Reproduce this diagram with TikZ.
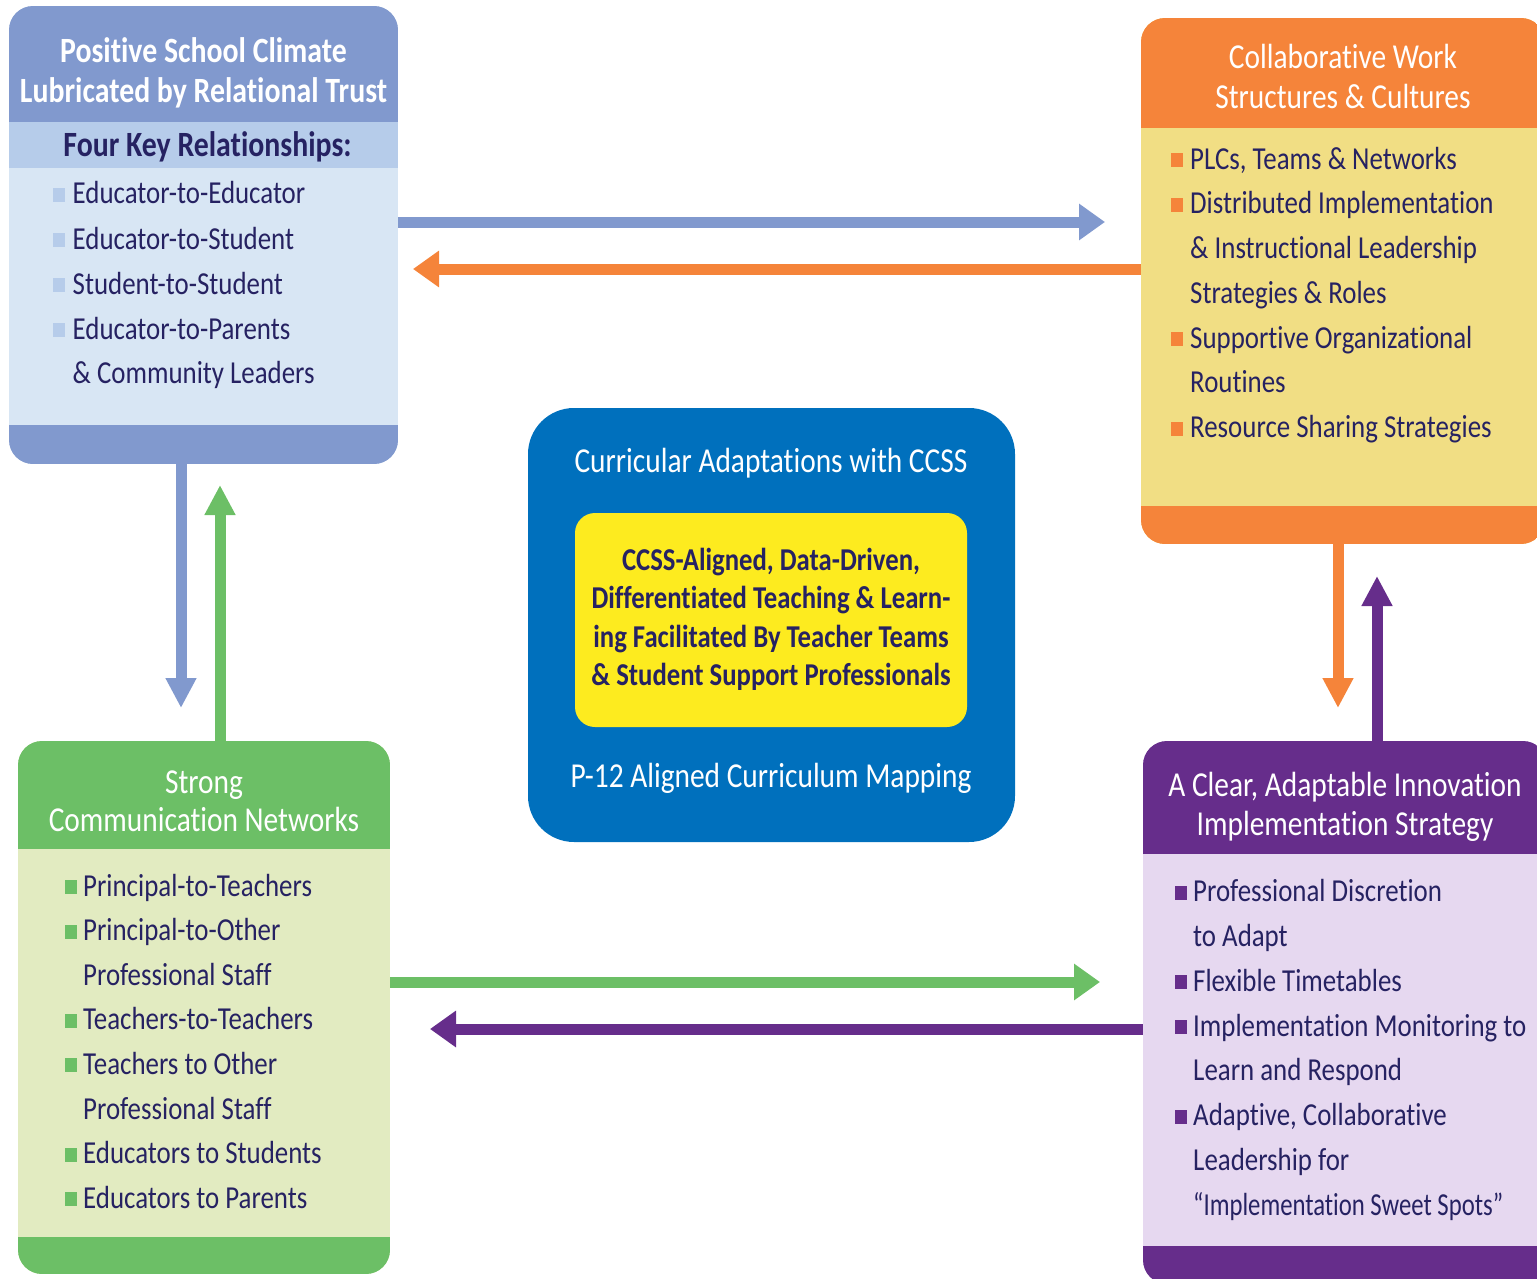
\documentclass[tikz,border=0pt]{standalone}
\usepackage{fontspec}
\setmainfont{Carlito}[FakeStretch=0.84, Ligatures={NoCommon}]
\usetikzlibrary{arrows.meta,fit}

\definecolor{navy}{HTML}{262262}
\definecolor{climHead}{HTML}{8199CE}
\definecolor{climSub}{HTML}{B6CCEA}
\definecolor{climBody}{HTML}{D8E6F4}
\definecolor{collHead}{HTML}{F5843A}
\definecolor{collBody}{HTML}{F1DE84}
\definecolor{commHead}{HTML}{6CBF66}
\definecolor{commBody}{HTML}{E2EBC1}
\definecolor{implHead}{HTML}{662D8B}
\definecolor{implBody}{HTML}{E6D8F0}
\definecolor{ccssBlue}{HTML}{0070BD}
\definecolor{coreYellow}{HTML}{FDEB1F}

\tikzset{
  body/.style={anchor=base west, inner sep=0pt, text=navy, font=\fontsize{32}{38}\selectfont},
  head/.style={anchor=base, inner sep=0pt, text=white, font=\fontsize{35}{41}\selectfont},
  headbold/.style={head, font=\fontsize{35.5}{41}\selectfont\bfseries},
  subhead/.style={anchor=base, inner sep=0pt, text=navy, font=\fontsize{35.5}{41}\selectfont\bfseries},
  coretext/.style={anchor=base, inner sep=0pt, text=navy, font=\fontsize{31.8}{37}\selectfont\bfseries},
  link/.style={line width=11pt},
  hx/.style={link, -{Triangle[width=35pt,length=26pt]}},
  vx/.style={link, -{Triangle[width=29pt,length=30pt]}},
  frame/.style={inner sep=0pt, draw=none},
}

% rounded panel: name, x1, y1, x2, y2, header end, footer start, header colour, body colour
\newcommand\panel[9]{%
  \begin{scope}
    \clip[rounded corners=24pt] (#2,#3) rectangle (#4,#5);
    \fill[#9] (#2,#3) rectangle (#4,#5);
    \fill[#8] (#2,#3) rectangle (#4,#6);
    \fill[#8] (#2,#7) rectangle (#4,#5);
  \end{scope}
  \node[frame, fit={(#2,#3) (#4,#5)}] (#1) {};
}
% list line with square bullet: name, colour, square x, text x, baseline, text
\newcommand\bulletline[6]{%
  \fill[#2] (#3,{#5-2}) rectangle ++(12,-14);
  \node[body] (#1) at (#4,#5) {#6};
}
% continuation line: name, text x, baseline, text
\newcommand\plainline[4]{\node[body] (#1) at (#2,#3) {#4};}

\begin{document}
\begin{tikzpicture}[x=1pt,y=-1pt]
\useasboundingbox (0,0) rectangle (1537,1279);
\clip (0,0) rectangle (1537,1279);

% ---- Positive school climate ----
\panel{climate}{9}{6}{398}{464}{122}{425}{climHead}{climBody}
\fill[climSub] (9,122) rectangle (398,168);
\node[headbold] (climT1) at (203.5,63) {Positive School Climate};
\node[headbold] (climT2) at (203.5,103) {Lubricated by Relational Trust};
\node[subhead] (climS) at (207.5,157) {Four Key Relationships:};
\bulletline{cl1}{climSub}{53}{72.5}{204}{Educator-to-Educator}
\bulletline{cl2}{climSub}{53}{72.5}{249}{Educator-to-Student}
\bulletline{cl3}{climSub}{53}{72.5}{294}{Student-to-Student}
\bulletline{cl4}{climSub}{53}{72.5}{339}{Educator-to-Parents}
\plainline{cl5}{72.5}{383}{\& Community Leaders}

% ---- Collaborative work structures ----
\panel{collab}{1141}{18}{1545}{544}{128}{506}{collHead}{collBody}
\node[head] (collT1) at (1343,69) {Collaborative Work};
\node[head] (collT2) at (1343,109) {Structures \& Cultures};
\bulletline{co1}{collHead}{1171}{1190}{169}{PLCs, Teams \& Networks}
\bulletline{co2}{collHead}{1171}{1190}{213.75}{Distributed Implementation}
\plainline{co3}{1190}{258.5}{\& Instructional Leadership}
\plainline{co4}{1190}{303.25}{Strategies \& Roles}
\bulletline{co5}{collHead}{1171}{1190}{348}{Supportive Organizational}
\plainline{co6}{1190}{392.75}{Routines}
\bulletline{co7}{collHead}{1171}{1190}{437.5}{Resource Sharing Strategies}

% ---- Strong communication networks ----
\panel{comm}{18}{741}{390}{1274}{849}{1237}{commHead}{commBody}
\node[head] (commT1) at (204,793) {Strong};
\node[head] (commT2) at (204,831.5) {Communication Networks};
\bulletline{cm1}{commHead}{65}{83}{896}{Principal-to-Teachers}
\bulletline{cm2}{commHead}{65}{83}{940.6}{Principal-to-Other}
\plainline{cm3}{83}{985.2}{Professional Staff}
\bulletline{cm4}{commHead}{65}{83}{1029.8}{Teachers-to-Teachers}
\bulletline{cm5}{commHead}{65}{83}{1074.4}{Teachers to Other}
\plainline{cm6}{83}{1119}{Professional Staff}
\bulletline{cm7}{commHead}{65}{83}{1163.6}{Educators to Students}
\bulletline{cm8}{commHead}{65}{83}{1208.2}{Educators to Parents}

% ---- Implementation strategy ----
\panel{impl}{1143}{741}{1547}{1284}{854}{1246}{implHead}{implBody}
\node[head] (implT1) at (1345,796.5) {A Clear, Adaptable Innovation};
\node[head] (implT2) at (1345,835) {Implementation Strategy};
\bulletline{im1}{implHead}{1175}{1193}{901.6}{Professional Discretion}
\plainline{im2}{1193}{946.4}{to Adapt}
\bulletline{im3}{implHead}{1175}{1193}{991.2}{Flexible Timetables}
\bulletline{im4}{implHead}{1175}{1193}{1036}{Implementation Monitoring to}
\plainline{im5}{1193}{1080.8}{Learn and Respond}
\bulletline{im6}{implHead}{1175}{1193}{1125.6}{Adaptive, Collaborative}
\plainline{im7}{1193}{1170.4}{Leadership for}
\plainline{im8}{1193}{1215.2}{\scalebox{0.92}[1]{“Implementation Sweet Spots”}}

% ---- Curricular adaptations (centre) ----
\fill[ccssBlue, rounded corners=46pt] (528,408) rectangle (1015,842);
\node[frame, fit={(528,408) (1015,842)}] (ccss) {};
\node[head] (ccssT) at (771,472) {Curricular Adaptations with CCSS};
\fill[coreYellow, rounded corners=20pt] (575,513) rectangle (967,727);
\node[frame, fit={(575,513) (967,727)}] (core) {};
\node[coretext] (core1) at (771,570) {CCSS-Aligned, Data-Driven,};
\node[coretext] (core2) at (771,608) {Differentiated Teaching \& Learn-};
\node[coretext] (core3) at (771,647) {ing Facilitated By Teacher Teams};
\node[coretext] (core4) at (771,685) {\& Student Support Professionals};
\node[head] (ccssB) at (771,787) {P-12 Aligned Curriculum Mapping};

% ---- connectors ----
\coordinate (tipClCo) at (1105,222);
\coordinate (tipCoCl) at (413,269);
\coordinate (tipClCm) at (181,708);
\coordinate (tipCmCl) at (220,485);
\coordinate (tipCoIm) at (1338,708);
\coordinate (tipImCo) at (1377,576);
\coordinate (tipCmIm) at (1100,982);
\coordinate (tipImCm) at (430,1029);

\draw[hx, climHead] (climate.east |- tipClCo) -- (tipClCo);
\draw[hx, collHead] (collab.west |- tipCoCl) -- (tipCoCl);
\draw[vx, climHead] (climate.south -| tipClCm) -- (tipClCm);
\draw[vx, commHead] (comm.north -| tipCmCl) -- (tipCmCl);
\draw[vx, collHead] (collab.south -| tipCoIm) -- (tipCoIm);
\draw[vx, implHead] (impl.north -| tipImCo) -- (tipImCo);
\draw[hx, commHead] (comm.east |- tipCmIm) -- (tipCmIm);
\draw[hx, implHead] (impl.west |- tipImCm) -- (tipImCm);
\end{tikzpicture}
\end{document}
